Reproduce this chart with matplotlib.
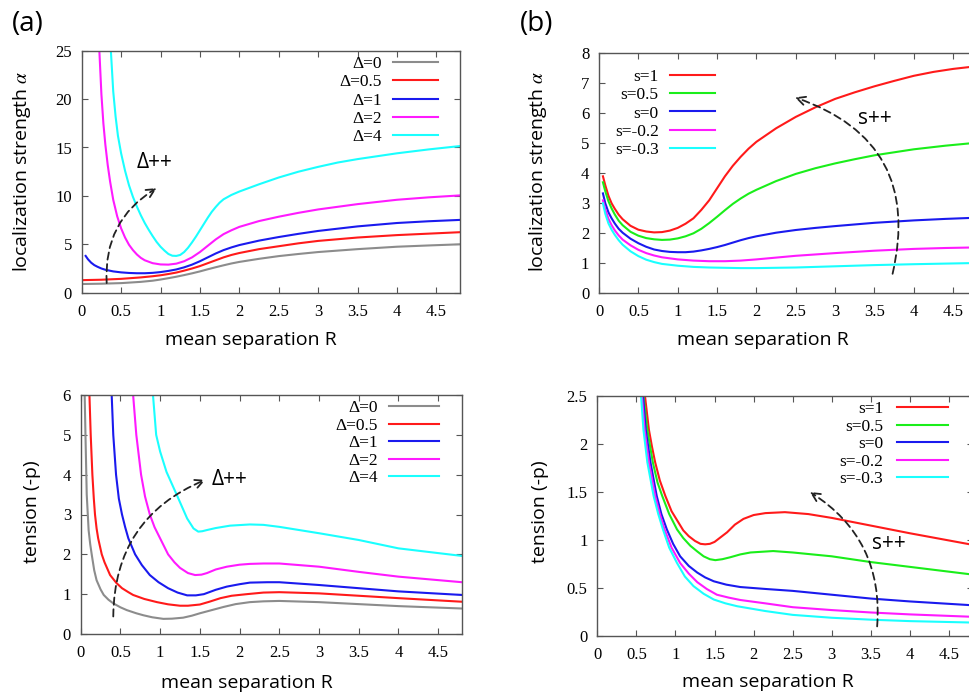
import matplotlib
matplotlib.use("Agg")
import matplotlib.pyplot as plt

SERIF = ["Liberation Serif", "STIXGeneral", "DejaVu Serif"]
SANS = ["Open Sans", "DejaVu Sans"]
plt.rcParams['font.family'] = SERIF
plt.rcParams['mathtext.fontset'] = 'stix'

# ---------------- data ----------------
a_labels = ["Δ=0", "Δ=0.5", "Δ=1", "Δ=2", "Δ=4"]
b_labels = ["s=1", "s=0.5", "s=0", "s=-0.2", "s=-0.3"]

# (a) top: localization strength alpha vs R
a_top_R_d0 = [0.02, 0.25, 0.5, 0.75, 0.9, 1.0, 1.1, 1.2, 1.3, 1.4, 1.5, 1.6, 1.7, 1.8, 1.9, 2.0,
              2.25, 2.5, 2.75, 3.0, 3.5, 4.0, 4.4, 4.8]
a_top_v_d0 = [0.9, 0.93, 0.99, 1.12, 1.24, 1.36, 1.5, 1.65, 1.82, 2.0, 2.2, 2.42, 2.63, 2.83, 3.02, 3.18,
              3.5, 3.78, 4.0, 4.2, 4.5, 4.75, 4.88, 5.0]
a_top_R_d05 = [0.02, 0.25, 0.5, 0.75, 0.9, 1.0, 1.1, 1.2, 1.3, 1.4, 1.5, 1.6, 1.7, 1.8, 1.9, 2.0,
               2.25, 2.5, 2.75, 3.0, 3.5, 4.0, 4.4, 4.8]
a_top_v_d05 = [1.3, 1.34, 1.43, 1.58, 1.7, 1.8, 1.93, 2.08, 2.28, 2.5, 2.75, 3.05, 3.35, 3.65, 3.9, 4.1,
               4.5, 4.8, 5.1, 5.35, 5.7, 5.95, 6.1, 6.25]
a_top_R_d1 = [0.05, 0.08, 0.12, 0.16, 0.2, 0.25, 0.3, 0.4, 0.5, 0.6, 0.7, 0.8, 0.9, 1.0, 1.1, 1.2,
              1.3, 1.4, 1.5, 1.6, 1.7, 1.8, 1.9, 2.0, 2.25, 2.5, 2.75, 3.0, 3.5, 4.0, 4.4, 4.8]
a_top_v_d1 = [3.8, 3.45, 3.1, 2.85, 2.68, 2.5, 2.37, 2.2, 2.1, 2.04, 2.01, 2.01, 2.05, 2.13, 2.25, 2.4,
              2.62, 2.9, 3.25, 3.65, 4.05, 4.4, 4.68, 4.92, 5.38, 5.75, 6.08, 6.38, 6.85, 7.2, 7.38, 7.52]
a_top_R_d2 = [0.2, 0.224, 0.25, 0.275, 0.3, 0.33, 0.36, 0.4, 0.45, 0.5, 0.55, 0.6, 0.65, 0.7, 0.75,
              0.8, 0.9, 1.0, 1.1, 1.2, 1.3, 1.4, 1.5, 1.6, 1.7, 1.8, 1.9, 2.0, 2.25, 2.5, 2.75,
              3.0, 3.5, 4.0, 4.4, 4.8]
a_top_v_d2 = [32, 25, 20.5, 17.5, 15.3, 13.2, 11.5, 9.6, 7.9, 6.65, 5.7, 4.95, 4.4, 3.95, 3.6,
              3.35, 3.05, 2.92, 2.9, 3.0, 3.25, 3.65, 4.2, 4.85, 5.5, 6.05, 6.45, 6.8, 7.4, 7.85, 8.25,
              8.6, 9.15, 9.6, 9.85, 10.05]
a_top_R_d4 = [0.35, 0.37, 0.4, 0.43, 0.46, 0.5, 0.55, 0.6, 0.65, 0.7, 0.75, 0.8, 0.85, 0.9, 0.95,
              1.0, 1.05, 1.1, 1.15, 1.2, 1.25, 1.3, 1.35, 1.4, 1.45, 1.5, 1.55, 1.6, 1.65, 1.7,
              1.75, 1.8, 1.9, 2.0, 2.25, 2.5, 2.75, 3.0, 3.25, 3.5, 3.75, 4.0, 4.4, 4.8]
a_top_v_d4 = [30, 25, 20.8, 18.2, 16.2, 14.4, 12.6, 11.1, 9.9, 8.9, 8.0, 7.2, 6.5, 5.85, 5.25,
              4.75, 4.35, 4.0, 3.82, 3.8, 3.9, 4.2, 4.65, 5.2, 5.8, 6.45, 7.1, 7.75, 8.35, 8.85,
              9.3, 9.65, 10.1, 10.45, 11.2, 11.9, 12.5, 13.0, 13.45, 13.8, 14.1, 14.4, 14.8, 15.15]

# (a) bottom: tension (-p) vs R
a_bot_R_d0 = [0.04, 0.05, 0.06, 0.076, 0.1, 0.12, 0.14, 0.17, 0.2, 0.25, 0.29, 0.35, 0.41, 0.5,
              0.58, 0.7, 0.79, 0.9, 1.04, 1.15, 1.29, 1.4, 1.5, 1.65, 1.8, 1.95, 2.13, 2.3, 2.5,
              3.0, 3.5, 4.0, 4.8]
a_bot_v_d0 = [7.0, 6.0, 5.0, 3.5, 2.6, 2.25, 1.98, 1.6, 1.35, 1.12, 0.98, 0.86, 0.77, 0.67,
              0.6, 0.52, 0.47, 0.42, 0.38, 0.385, 0.41, 0.46, 0.52, 0.6, 0.68, 0.75, 0.8, 0.82, 0.83,
              0.8, 0.75, 0.7, 0.64]
a_bot_R_d05 = [0.1, 0.11, 0.126, 0.147, 0.165, 0.18, 0.2, 0.22, 0.265, 0.3, 0.37, 0.45, 0.52, 0.6,
               0.66, 0.8, 0.96, 1.1, 1.25, 1.35, 1.5, 1.62, 1.76, 1.9, 2.09, 2.3, 2.5, 3.0, 3.5,
               4.0, 4.8]
a_bot_v_d05 = [6.8, 6.0, 5.0, 4.0, 3.4, 3.0, 2.65, 2.4, 2.0, 1.8, 1.48, 1.28, 1.15, 1.05,
               0.98, 0.88, 0.8, 0.745, 0.71, 0.71, 0.74, 0.81, 0.9, 0.96, 1.0, 1.04, 1.05, 1.02, 0.96,
               0.9, 0.81]
a_bot_R_d1 = [0.38, 0.39, 0.41, 0.445, 0.48, 0.52, 0.56, 0.6, 0.685, 0.77, 0.87, 0.98, 1.1, 1.22,
              1.34, 1.45, 1.55, 1.7, 1.84, 2.0, 2.13, 2.35, 2.5, 3.0, 3.5, 4.0, 4.8]
a_bot_v_d1 = [6.5, 6.0, 5.0, 4.0, 3.4, 3.0, 2.68, 2.4, 2.0, 1.73, 1.48, 1.3, 1.15, 1.04,
              0.97, 0.97, 1.0, 1.11, 1.19, 1.25, 1.29, 1.3, 1.3, 1.23, 1.15, 1.07, 0.98]
a_bot_R_d2 = [0.65, 0.66, 0.70, 0.76, 0.81, 0.87, 0.93, 1.0, 1.1, 1.18, 1.25, 1.35, 1.44, 1.52,
              1.59, 1.7, 1.84, 2.0, 2.13, 2.3, 2.5, 3.0, 3.5, 4.0, 4.8]
a_bot_v_d2 = [6.5, 6.0, 5.0, 4.0, 3.45, 3.0, 2.68, 2.4, 2.0, 1.8, 1.66, 1.53, 1.48, 1.49,
              1.53, 1.62, 1.69, 1.74, 1.76, 1.77, 1.77, 1.69, 1.56, 1.44, 1.3]
a_bot_R_d4 = [0.9, 0.91, 0.95, 1.0, 1.08, 1.21, 1.34, 1.42, 1.48, 1.53, 1.59, 1.7, 1.88, 2.13,
              2.3, 2.5, 3.0, 3.5, 4.0, 4.8]
a_bot_v_d4 = [6.3, 6.0, 5.0, 4.58, 4.07, 3.49, 2.9, 2.65, 2.57, 2.58, 2.61, 2.66, 2.72, 2.75,
              2.74, 2.69, 2.53, 2.36, 2.15, 1.96]

# (b) top: localization strength alpha vs R
b_top_R_s1 = [0.05, 0.08, 0.12, 0.16, 0.2, 0.25, 0.3, 0.4, 0.5, 0.6, 0.7, 0.8, 0.9, 1.0, 1.1, 1.2,
              1.3, 1.4, 1.5, 1.6, 1.7, 1.8, 1.9, 2.0, 2.25, 2.5, 2.75, 3.0, 3.25, 3.5, 3.75, 4.0,
              4.25, 4.5, 4.8]
b_top_v_s1 = [3.9, 3.6, 3.25, 3.0, 2.82, 2.62, 2.47, 2.25, 2.12, 2.06, 2.03, 2.04, 2.09, 2.18, 2.32, 2.5,
              2.78, 3.1, 3.5, 3.9, 4.25, 4.55, 4.82, 5.05, 5.5, 5.88, 6.2, 6.48, 6.7, 6.9, 7.08, 7.25,
              7.38, 7.48, 7.57]
b_top_R_s05 = [0.05, 0.08, 0.12, 0.16, 0.2, 0.25, 0.3, 0.4, 0.5, 0.6, 0.7, 0.8, 0.9, 1.0, 1.1, 1.2,
               1.3, 1.4, 1.5, 1.6, 1.7, 1.8, 1.9, 2.0, 2.25, 2.5, 2.75, 3.0, 3.25, 3.5, 3.75, 4.0,
               4.4, 4.8]
b_top_v_s05 = [3.7, 3.4, 3.07, 2.83, 2.63, 2.42, 2.27, 2.05, 1.92, 1.84, 1.8, 1.78, 1.79, 1.83, 1.9, 2.0,
               2.15, 2.34, 2.55, 2.77, 2.98, 3.16, 3.32, 3.45, 3.74, 3.98, 4.17, 4.33, 4.47, 4.6, 4.7, 4.8,
               4.92, 5.02]
b_top_R_s0 = [0.05, 0.08, 0.12, 0.16, 0.2, 0.25, 0.3, 0.4, 0.5, 0.6, 0.7, 0.8, 0.9, 1.0, 1.1, 1.2,
              1.3, 1.4, 1.5, 1.6, 1.7, 1.8, 1.9, 2.0, 2.25, 2.5, 2.75, 3.0, 3.5, 4.0, 4.4, 4.8]
b_top_v_s0 = [3.33, 3.0, 2.7, 2.5, 2.33, 2.15, 2.02, 1.82, 1.67, 1.55, 1.46, 1.41, 1.38, 1.37, 1.37, 1.39,
              1.43, 1.48, 1.54, 1.61, 1.69, 1.77, 1.84, 1.9, 2.02, 2.11, 2.18, 2.24, 2.35, 2.43, 2.48, 2.52]
b_top_R_sm02 = [0.05, 0.08, 0.12, 0.16, 0.2, 0.25, 0.3, 0.4, 0.5, 0.6, 0.7, 0.8, 1.0, 1.2, 1.4, 1.6,
                1.8, 2.0, 2.25, 2.5, 3.0, 3.5, 4.0, 4.4, 4.8]
b_top_v_sm02 = [3.1, 2.8, 2.48, 2.27, 2.1, 1.93, 1.79, 1.6, 1.45, 1.34, 1.26, 1.2, 1.13, 1.09, 1.07, 1.07,
                1.09, 1.13, 1.19, 1.25, 1.34, 1.42, 1.48, 1.51, 1.53]
b_top_R_sm03 = [0.05, 0.08, 0.12, 0.16, 0.2, 0.25, 0.3, 0.4, 0.5, 0.6, 0.7, 0.8, 1.0, 1.2, 1.4, 1.6,
                1.8, 2.0, 2.5, 3.0, 3.5, 4.0, 4.8]
b_top_v_sm03 = [3.0, 2.65, 2.33, 2.12, 1.95, 1.77, 1.62, 1.4, 1.24, 1.12, 1.04, 0.98, 0.92, 0.88, 0.86, 0.85,
                0.84, 0.84, 0.86, 0.9, 0.94, 0.97, 1.01]

# (b) bottom: tension (-p) vs R
b_bot_R_s1 = [0.6, 0.61, 0.66, 0.7, 0.74, 0.8, 0.87, 0.95, 1.04, 1.1, 1.17, 1.25, 1.32, 1.38, 1.44,
              1.5, 1.58, 1.66, 1.76, 1.87, 2.0, 2.15, 2.4, 2.7, 3.0, 3.5, 4.0, 4.4, 4.8]
b_bot_v_s1 = [2.6, 2.5, 2.15, 1.97, 1.81, 1.62, 1.46, 1.3, 1.18, 1.1, 1.04, 0.99, 0.96, 0.955, 0.96,
              0.98, 1.03, 1.08, 1.16, 1.22, 1.26, 1.28, 1.29, 1.27, 1.23, 1.15, 1.07, 1.01, 0.95]
b_bot_R_s05 = [0.58, 0.59, 0.64, 0.71, 0.77, 0.83, 0.92, 1.02, 1.1, 1.19, 1.28, 1.36, 1.44, 1.51,
               1.6, 1.7, 1.83, 1.96, 2.25, 2.5, 3.0, 3.5, 4.0, 4.8]
b_bot_v_s05 = [2.6, 2.5, 2.15, 1.81, 1.6, 1.46, 1.27, 1.11, 1.02, 0.94, 0.88, 0.83, 0.8, 0.79,
               0.8, 0.82, 0.85, 0.87, 0.885, 0.87, 0.83, 0.77, 0.72, 0.64]
b_bot_R_s0 = [0.57, 0.585, 0.62, 0.68, 0.76, 0.82, 0.89, 0.97, 1.06, 1.17, 1.28, 1.38, 1.49, 1.65,
              1.83, 2.15, 2.5, 3.0, 3.5, 4.0, 4.8]
b_bot_v_s0 = [2.6, 2.5, 2.15, 1.81, 1.46, 1.27, 1.11, 0.96, 0.83, 0.73, 0.66, 0.61, 0.57, 0.535,
              0.51, 0.49, 0.47, 0.43, 0.39, 0.36, 0.32]
b_bot_R_sm02 = [0.56, 0.57, 0.605, 0.66, 0.74, 0.8, 0.86, 0.95, 1.06, 1.17, 1.28, 1.4, 1.53, 1.68,
                1.83, 2.15, 2.5, 3.0, 3.5, 4.0, 4.8]
b_bot_v_sm02 = [2.6, 2.5, 2.15, 1.81, 1.46, 1.27, 1.11, 0.92, 0.76, 0.65, 0.56, 0.49, 0.43, 0.4,
                0.375, 0.34, 0.3, 0.27, 0.245, 0.225, 0.2]
b_bot_R_sm03 = [0.55, 0.56, 0.59, 0.64, 0.72, 0.78, 0.84, 0.92, 1.02, 1.12, 1.23, 1.36, 1.49, 1.64,
                1.79, 2.15, 2.5, 3.0, 3.5, 4.0, 4.8]
b_bot_v_sm03 = [2.6, 2.5, 2.15, 1.81, 1.46, 1.27, 1.11, 0.92, 0.76, 0.62, 0.52, 0.44, 0.38, 0.34,
                0.31, 0.26, 0.22, 0.19, 0.17, 0.155, 0.14]

x_ticks = [0, 0.5, 1, 1.5, 2, 2.5, 3, 3.5, 4, 4.5]
x_tick_labels = ["0", "0.5", "1", "1.5", "2", "2.5", "3", "3.5", "4", "4.5"]
yt_a_top = [0, 5, 10, 15, 20, 25]
yt_a_bot = [0, 1, 2, 3, 4, 5, 6]
yt_b_top = [0, 1, 2, 3, 4, 5, 6, 7, 8]
yt_b_bot = [0, 0.5, 1, 1.5, 2, 2.5]
yl_b_bot = ["0", "0.5", "1", "1.5", "2", "2.5"]

# ---------------- style ----------------
a_colors = ["#8c8c8c", "#ff1a1a", "#1a1aee", "#ff1aff", "#1affff"]
b_colors = ["#ff1a1a", "#1aee1a", "#1a1aee", "#ff1aff", "#1affff"]
SPINE = "#555555"

fig = plt.figure(figsize=(9.69, 6.96), dpi=100)
W, H = 969.0, 696.0


def make_ax(left, top, right, bottom):
    return fig.add_axes([left / W, 1 - bottom / H, (right - left) / W, (bottom - top) / H])


axA1 = make_ax(81.7, 50.7, 460.0, 292.7)
axB1 = make_ax(599.0, 53.3, 976.8, 293.3)
axA2 = make_ax(80.7, 395.0, 462.0, 634.0)
axB2 = make_ax(597.3, 396.0, 972.5, 636.0)


def style(ax, ylim, yticks, ylabels, ylab, xlabpos, ylabpos):
    ax.set_xlim(0, 4.8)
    ax.set_ylim(*ylim)
    ax.set_xticks(x_ticks)
    ax.set_xticklabels(x_tick_labels, family=SERIF, fontsize=12)
    ax.set_yticks(yticks)
    ax.set_yticklabels(ylabels, family=SERIF, fontsize=12)
    ax.tick_params(direction="in", length=4.5, width=0.8, color=SPINE, top=True, right=True)
    ax.tick_params(axis="x", pad=8)
    ax.tick_params(axis="y", pad=7)
    for sp in ax.spines.values():
        sp.set_color(SPINE)
        sp.set_linewidth(1.0)
    ax.set_xlabel("mean separation R", family=SANS, fontsize=14)
    ax.xaxis.label.set_va("center")
    ax.xaxis.set_label_coords(*xlabpos)
    ax.set_ylabel(ylab, family=SANS, fontsize=14)
    ax.yaxis.label.set_va("center")
    ax.yaxis.set_label_coords(*ylabpos)


def legend(ax, anchor, hl, htp, ls):
    ax.legend(loc="upper right", bbox_to_anchor=anchor, frameon=False, markerfirst=False,
              prop={"family": SERIF, "size": 12.5}, handlelength=hl, handletextpad=htp,
              labelspacing=ls, borderpad=0, borderaxespad=0)


def arrow(ax, start, tip, rad):
    ax.annotate("", xy=tip, xytext=start,
                arrowprops=dict(arrowstyle="->,head_length=0.6,head_width=0.3", ls=(0, (4, 2.5)),
                                lw=1.3, color="#222222", shrinkA=0, shrinkB=0,
                                connectionstyle=f"arc3,rad={rad}"))


LW = 1.5
# (a) top
for R, v, c, lab in zip([a_top_R_d0, a_top_R_d05, a_top_R_d1, a_top_R_d2, a_top_R_d4],
                        [a_top_v_d0, a_top_v_d05, a_top_v_d1, a_top_v_d2, a_top_v_d4],
                        a_colors, a_labels):
    axA1.plot(R, v, color=c, lw=LW, label=lab)
style(axA1, (0, 25), yt_a_top, [str(t) for t in yt_a_top], r"localization strength $\alpha$",
      (0.4475, -0.195), (-0.159, 0.504))
legend(axA1, (0.942, 0.978), 2.6, 0.64, 0.12)
arrow(axA1, (0.317, 1.0), (0.95, 10.8), -0.3)
axA1.text(0.93, 13.4, "Δ++", family=SANS, fontsize=15, ha="center", va="center")

# (b) top
for R, v, c, lab in zip([b_top_R_s1, b_top_R_s05, b_top_R_s0, b_top_R_sm02, b_top_R_sm03],
                        [b_top_v_s1, b_top_v_s05, b_top_v_s0, b_top_v_sm02, b_top_v_sm03],
                        b_colors, b_labels):
    axB1.plot(R, v, color=c, lw=LW, label=lab)
style(axB1, (0, 8), yt_b_top, [str(t) for t in yt_b_top], r"localization strength $\alpha$",
      (0.434, -0.195), (-0.161, 0.51))
legend(axB1, (0.307, 0.935), 2.6, 0.64, 0.12)
arrow(axB1, (3.73, 0.65), (2.49, 6.53), 0.45)
axB1.text(3.51, 5.83, "s++", family=SANS, fontsize=15, ha="center", va="center")

# (a) bottom
for R, v, c, lab in zip([a_bot_R_d0, a_bot_R_d05, a_bot_R_d1, a_bot_R_d2, a_bot_R_d4],
                        [a_bot_v_d0, a_bot_v_d05, a_bot_v_d1, a_bot_v_d2, a_bot_v_d4],
                        a_colors, a_labels):
    axA2.plot(R, v, color=c, lw=LW, label=lab)
style(axA2, (0, 6), yt_a_bot, [str(t) for t in yt_a_bot], "tension (-p)",
      (0.435, -0.205), (-0.128, 0.512))
legend(axA2, (0.940, 0.979), 2.9, 0.64, 0.08)
arrow(axA2, (0.41, 0.44), (1.57, 3.87), -0.33)
axA2.text(1.65, 3.87, "Δ++", family=SANS, fontsize=15, ha="left", va="center")

# (b) bottom
for R, v, c, lab in zip([b_bot_R_s1, b_bot_R_s05, b_bot_R_s0, b_bot_R_sm02, b_bot_R_sm03],
                        [b_bot_v_s1, b_bot_v_s05, b_bot_v_s0, b_bot_v_sm02, b_bot_v_sm03],
                        b_colors, b_labels):
    axB2.plot(R, v, color=c, lw=LW, label=lab)
style(axB2, (0, 2.5), yt_b_bot, yl_b_bot, "tension (-p)", (0.454, -0.19), (-0.153, 0.518))
legend(axB2, (0.935, 0.979), 2.95, 0.8, 0.08)
arrow(axB2, (3.58, 0.1), (2.72, 1.5), 0.3)
axB2.text(3.73, 0.965, "s++", family=SANS, fontsize=15, ha="center", va="center")

# panel labels
fig.text(28 / W, 1 - 24 / H, "(a)", family=SANS, fontsize=20, ha="center", va="center")
fig.text(537 / W, 1 - 24 / H, "(b)", family=SANS, fontsize=20, ha="center", va="center")

fig.savefig("out.png", dpi=100)
